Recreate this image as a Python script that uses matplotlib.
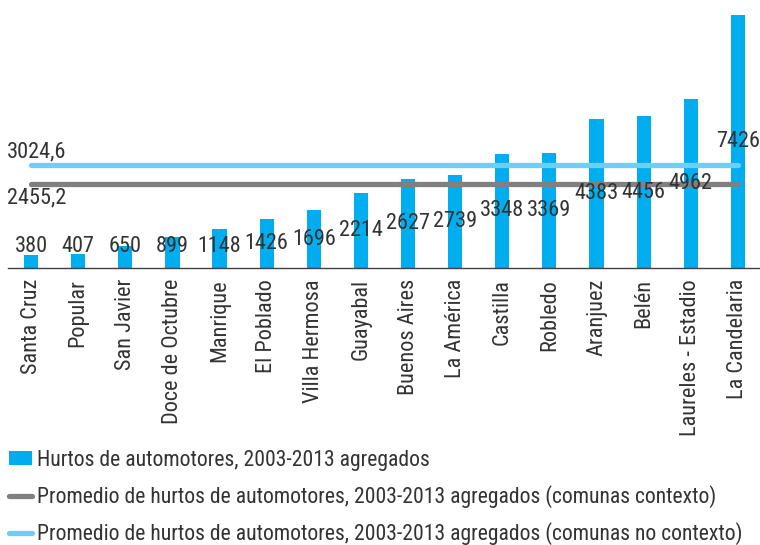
import matplotlib
matplotlib.use("Agg")
import matplotlib.pyplot as plt
from matplotlib.lines import Line2D
from matplotlib.patches import Patch

plt.rcParams['font.family'] = ['Roboto Condensed', 'DejaVu Sans']

categories = ["Santa Cruz", "Popular", "San Javier", "Doce de Octubre", "Manrique",
              "El Poblado", "Villa Hermosa", "Guayabal", "Buenos Aires", "La América",
              "Castilla", "Robledo", "Aranjuez", "Belén", "Laureles - Estadio",
              "La Candelaria"]
values = [380, 407, 650, 899, 1148, 1426, 1696, 2214, 2627, 2739, 3348, 3369,
          4383, 4456, 4962, 7426]
avg_contexto = 2455.2
avg_no_contexto = 3024.6
labels_legend = ["Hurtos de automotores, 2003-2013 agregados",
                 "Promedio de hurtos de automotores, 2003-2013 agregados (comunas contexto)",
                 "Promedio de hurtos de automotores, 2003-2013 agregados (comunas no contexto)"]

bar_color = "#00ADEF"
grey = "#808080"
light = "#6CCFF6"
txt = "#333333"
fs = 16
fs_leg = 15.6

fig = plt.figure(figsize=(7.6, 5.45), dpi=100)
ax = fig.add_axes([8/760, 277/545, 752/760, 258/545])
x = list(range(len(categories)))
ax.bar(x, values, width=0.3, color=bar_color, zorder=2)
ax.plot([x[0], x[-1]], [avg_contexto]*2, color=grey, lw=3.8, solid_capstyle='round', zorder=3)
ax.plot([x[0], x[-1]], [avg_no_contexto]*2, color=light, lw=3.8, solid_capstyle='round', zorder=3)
ax.set_xlim(-0.49, 15.47)
ax.set_ylim(0, 7573)

for xi, v in zip(x, values):
    ax.text(xi, max(v/2, 620), f"{v}", ha='center', va='center', fontsize=fs, color=txt, zorder=4)

ax.annotate("3024,6", xy=(x[0], avg_no_contexto), xytext=(4, 9.5), textcoords='offset points',
            ha='center', va='center', fontsize=fs, color=txt)
ax.annotate("2455,2", xy=(x[0], avg_contexto), xytext=(4, -9.5), textcoords='offset points',
            ha='center', va='center', fontsize=fs, color=txt)

for s in ['top', 'right', 'left']:
    ax.spines[s].set_visible(False)
ax.spines['bottom'].set_color('#404040')
ax.spines['bottom'].set_linewidth(1.0)
ax.set_yticks([])
ax.set_xticks(x)
ax.set_xticklabels(categories, rotation=90, fontsize=fs, color=txt, va='top', ha='center')
ax.tick_params(axis='x', length=0, pad=8)

handles = [Patch(facecolor=bar_color, edgecolor='none'),
           Line2D([0], [0], color=grey, lw=3.8, solid_capstyle='round'),
           Line2D([0], [0], color=light, lw=3.8, solid_capstyle='round')]
leg = fig.legend(handles, labels_legend, loc='upper left', bbox_to_anchor=(0.012, 0.175),
                 frameon=False, fontsize=fs_leg, handlelength=1.07, handleheight=0.6,
                 handletextpad=0.2, labelspacing=0.66, borderaxespad=0, borderpad=0.0)
for t in leg.get_texts():
    t.set_color(txt)

fig.savefig("out.png", dpi=100)
